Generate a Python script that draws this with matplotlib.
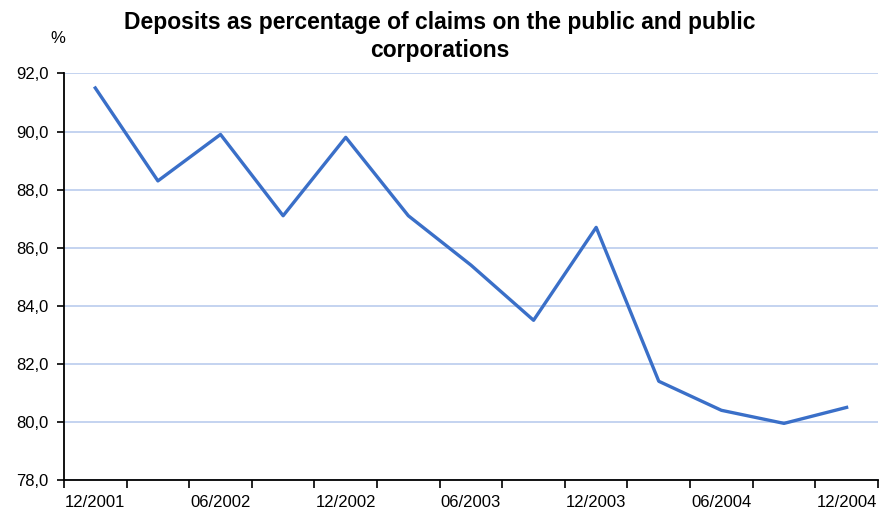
import matplotlib
matplotlib.use("Agg")
import matplotlib.pyplot as plt
from matplotlib import ticker

# quarterly observations, 12/2001 .. 12/2004
quarters = ["12/2001", "03/2002", "06/2002", "09/2002", "12/2002", "03/2003",
            "06/2003", "09/2003", "12/2003", "03/2004", "06/2004", "09/2004",
            "12/2004"]
deposit_share = [91.5, 88.3, 89.9, 87.1, 89.8, 87.1, 85.4, 83.5, 86.7, 81.4,
                 80.4, 79.95, 80.5]
y_ticks = [78, 80, 82, 84, 86, 88, 90, 92]

plt.rcParams["font.family"] = ["Liberation Sans", "DejaVu Sans"]

fig = plt.figure(figsize=(8.85, 5.21), dpi=100)
ax = fig.add_axes([0.0723, 0.0787, 0.9197, 0.7803])

x = list(range(len(quarters)))
ax.plot(x, deposit_share, color="#3a6fc8", linewidth=2.4, zorder=3)

ax.set_xlim(-0.5, len(quarters) - 0.5)
ax.set_ylim(78, 92)

ax.set_yticks(y_ticks)
ax.yaxis.set_major_formatter(
    ticker.FuncFormatter(lambda v, p: f"{v:.1f}".replace(".", ",")))
ax.grid(axis="y", color="#bfd0ef", linewidth=1.3, zorder=0)

# tick marks between categories, labels on every second quarter
ax.set_xticks([i - 0.5 for i in range(len(quarters) + 1)])
ax.set_xticklabels([])
ax.set_xticks(x[::2], minor=True)
ax.set_xticklabels(quarters[::2], minor=True)
ax.tick_params(axis="x", which="major", length=6, width=1.2, direction="out")
ax.tick_params(axis="x", which="minor", length=0, pad=11, labelsize=12)
ax.tick_params(axis="y", length=5, width=1.2, direction="out", labelsize=12, pad=6)

for side in ("top", "right"):
    ax.spines[side].set_visible(False)
for side in ("left", "bottom"):
    ax.spines[side].set_linewidth(1.3)
    ax.spines[side].set_color("black")

fig.text(0.065, 0.927, "%", fontsize=12, ha="center", va="center")
fig.text(0.497, 0.957, "Deposits as percentage of claims on the public and public",
         fontsize=16.5, fontweight="bold", ha="center", va="center")
fig.text(0.497, 0.903, "corporations",
         fontsize=16.5, fontweight="bold", ha="center", va="center")

fig.savefig("out.png", dpi=100)
